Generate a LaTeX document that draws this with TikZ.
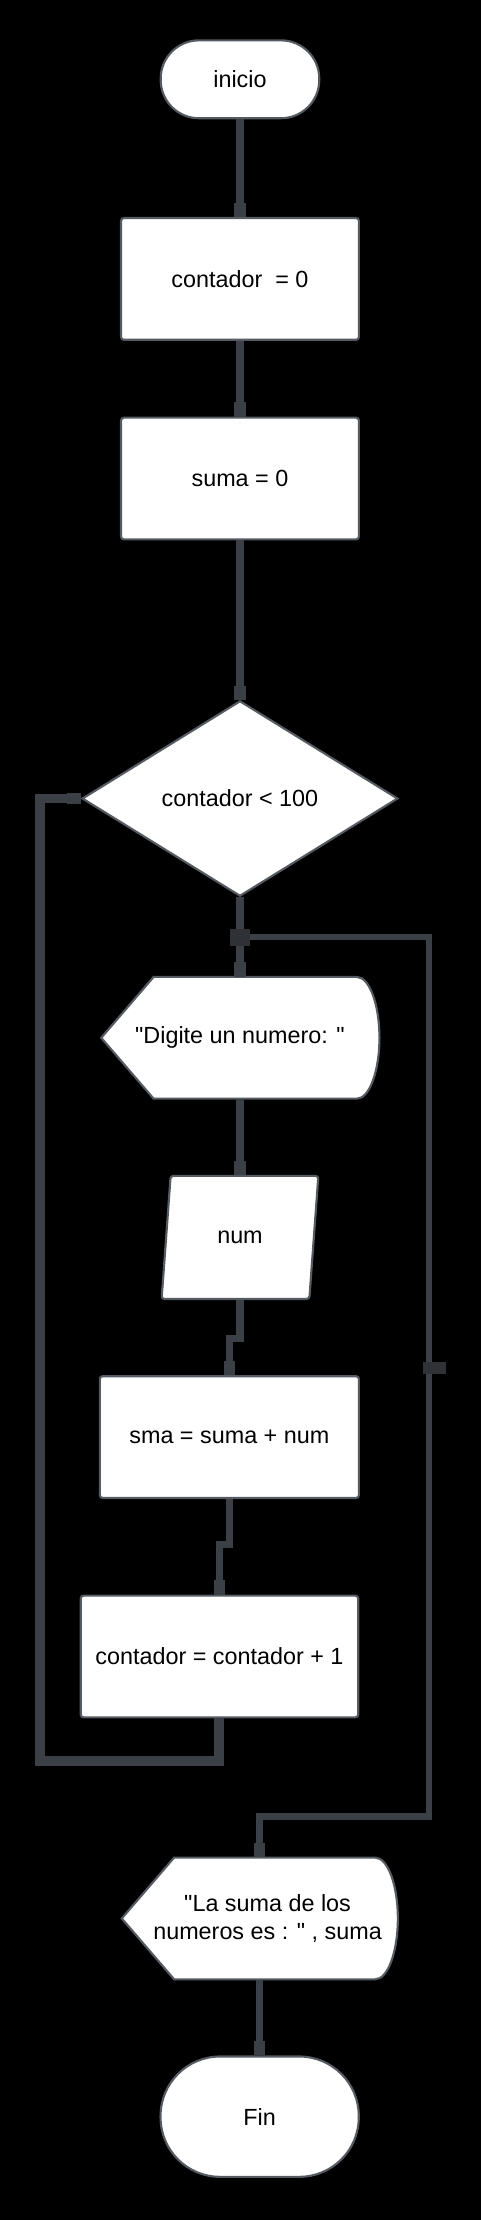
\documentclass[tikz,border=0pt]{standalone}
\usepackage{fontspec}
\setmainfont{Liberation Sans}[Ligatures=TeXOff]
\usetikzlibrary{shapes.geometric,arrows.meta,backgrounds}

\definecolor{linegray}{HTML}{3B3F46}
\definecolor{bordergray}{HTML}{565A61}
\definecolor{blobgray}{HTML}{2F3136}

\tikzset{
  every node/.style={font=\fontsize{16.5}{19.5}\selectfont},
  proceso/.style={rectangle, draw=bordergray, line width=1.5pt, fill=white, rounded corners=2pt, minimum height=86pt, inner sep=0pt},
  terminal/.style={rectangle, draw=bordergray, line width=1.5pt, fill=white, inner sep=0pt},
  decision/.style={diamond, draw=bordergray, line width=1.5pt, fill=white, minimum width=223pt, minimum height=138pt, inner sep=0pt},
  entrada/.style={trapezium, trapezium left angle=77, trapezium right angle=103, trapezium stretches=true, draw=bordergray, line width=1.5pt, fill=white, rounded corners=2pt, minimum width=111pt, minimum height=87pt, inner sep=0pt},
  salida/.style={rectangle, inner sep=0pt, minimum height=86pt, align=center},
  contorno/.style={draw=bordergray, line width=1.5pt, fill=white},
  junta/.style={rectangle, fill=blobgray, minimum width=14pt, minimum height=12pt, inner sep=0pt},
  marca/.style={rectangle, fill=blobgray, minimum width=16pt, minimum height=9pt, inner sep=0pt, xshift=4pt},
  linea/.style={draw=linegray, line width=5pt},
  flecha/.style={linea, -{Rectangle[length=10pt,width=8pt]}},
}

% display shape drawn round a text node: name, left reach, right reach
\newcommand{\pantalla}[3]{%
  \path[contorno] ([xshift=-#2+37pt, yshift=43pt]#1.center) -- ([xshift=#3-16pt, yshift=43pt]#1.center)
    arc[start angle=90, end angle=-90, x radius=16pt, y radius=43pt]
    -- ([xshift=-#2+37pt, yshift=-43pt]#1.center) -- ([xshift=-#2]#1.center) -- cycle;}

\begin{document}
\begin{tikzpicture}[x=1pt, y=-1pt]
  \node[terminal, minimum width=112pt, minimum height=55pt, rounded corners=27pt] (inicio) at (169.5,56) {inicio};
  \node[proceso, minimum width=168pt] (cont0) at (169.5,197) {contador\ \ = 0};
  \node[proceso, minimum width=168pt] (suma0) at (169.5,338) {suma = 0};
  \node[decision] (cond) at (169.5,564) {contador < 100};
  \node[junta] (J) at (169.5,662) {};
  \node[salida] (pedir) at (169.5,733) {"Digite un numero: "};
  \node[entrada] (num) at (169.5,874) {num};
  \node[proceso, minimum width=183pt] (sma) at (162,1015) {sma = suma + num};
  \node[proceso, minimum width=196pt] (cont1) at (155,1170) {contador = contador + 1};
  \node[salida] (mostrar) at (189,1355) {"La suma de los\\numeros es : " , suma};
  \node[terminal, minimum width=140pt, minimum height=85pt, rounded corners=42pt] (fin) at (183.4,1495) {Fin};

  \begin{scope}[on background layer]
    \fill[black] (0,0) rectangle (340,1568);
    \pantalla{pedir}{98pt}{98.5pt}
    \pantalla{mostrar}{103pt}{92pt}
  \end{scope}

  \draw[flecha] (inicio) -- (cont0);
  \draw[flecha] (cont0) -- (suma0);
  \draw[flecha] (suma0) -- (cond);
  \draw[linea] (cond) -- (J);
  \draw[flecha] (J) -- (pedir);
  \draw[flecha] (pedir) -- (num);
  \draw[flecha] (num.south) -- ++(0,27) -| (sma.north);
  \draw[flecha] (sma.south) -- ++(0,32) -| (cont1.north);
  \draw[flecha, line width=7pt] (cont1.south) -- ++(0,30) -| (28,564) -- (cond.west);
  \draw[flecha, line width=4.5pt] (J) -- (303,662) -- node[marca, pos=0.49] (m1) {} (303,1283) -| (mostrar.north -| fin);
  \draw[flecha] (mostrar.south -| fin) -- (fin);
\end{tikzpicture}
\end{document}
